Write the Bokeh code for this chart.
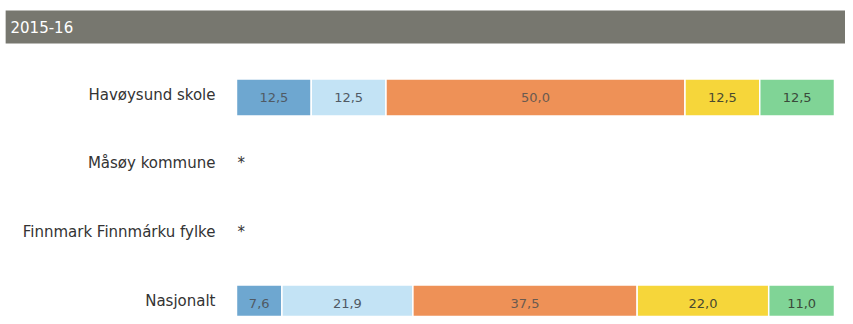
from bokeh.plotting import figure
from bokeh.models import Range1d, ColumnDataSource, BoxAnnotation, Label
from bokeh.core.properties import value
from bokeh.embed import file_html
from bokeh.resources import INLINE

# ---- data ----
period = "2015-16"
categories = ["Havøysund skole", "Måsøy kommune", "Finnmark Finnmárku fylke", "Nasjonalt"]
seg1 = [12.5, None, None, 7.6]
seg2 = [12.5, None, None, 21.9]
seg3 = [50.0, None, None, 37.5]
seg4 = [12.5, None, None, 22.0]
seg5 = [12.5, None, None, 11.0]
series = [seg1, seg2, seg3, seg4, seg5]
colors = ["#6ea7d0", "#c3e3f5", "#ee9157", "#f6d63a", "#80d496"]
text_colors = ["#505a64", "#505a64", "#6a5a50", "#4a4a30", "#3a4a3a"]

FONT = "DejaVu Sans"

p = figure(width=845, height=316, output_backend="svg", toolbar_location=None,
           x_range=Range1d(-39.46, 101.84), y_range=Range1d(3.189, -1.4125),
           min_border=0)
p.axis.visible = False
p.grid.visible = False
p.outline_line_color = None
p.background_fill_color = "white"
p.border_fill_color = "white"

# header band
p.add_layout(BoxAnnotation(top=-1.267, bottom=-0.786, left=-38.6, fill_color="#77776f",
                           fill_alpha=1.0, line_alpha=0, level="underlay"))
p.add_layout(Label(x=10, x_units="screen", y=-1.02, text=period, text_color="white",
                   text_font=FONT, text_font_size="15px", text_baseline="middle"))

ys = list(range(len(categories)))

# stacked bars
rows_with_data = [i for i in ys if seg1[i] is not None]
left = {i: 0.0 for i in rows_with_data}
for k, s in enumerate(series):
    lefts, rights, yy, mids, labels = [], [], [], [], []
    for i in rows_with_data:
        l = left[i]
        r = l + s[i]
        lefts.append(l); rights.append(r); yy.append(i)
        mids.append((l + r) / 2)
        labels.append(f"{s[i]:.1f}".replace(".", ","))
        left[i] = r
    src = ColumnDataSource(dict(left=lefts, right=rights, y=yy, mid=mids, label=labels))
    p.hbar(y="y", left="left", right="right", height=0.54, source=src,
           fill_color=colors[k], line_color="white", line_width=1.5)
    p.text(x="mid", y="y", text="label", source=src, text_align="center",
           text_baseline="middle", text_color=text_colors[k],
           text_font=value(FONT), text_font_size="13px")

# category labels
cat_src = ColumnDataSource(dict(y=ys, name=categories, x=[0] * len(ys)))
p.text(x="x", y="y", text="name", source=cat_src, x_offset=-21, y_offset=-3,
       text_align="right", text_baseline="middle", text_color="#333333",
       text_font=value(FONT), text_font_size="15px")

# missing-data markers
miss = [i for i in ys if seg1[i] is None]
miss_src = ColumnDataSource(dict(y=miss, x=[0] * len(miss), t=["*"] * len(miss)))
p.text(x="x", y="y", text="t", source=miss_src, x_offset=1, y_offset=-3,
       text_align="left", text_baseline="middle", text_color="#333333",
       text_font=value(FONT), text_font_size="15px")

open("out.html", "w").write(file_html(p, INLINE))
